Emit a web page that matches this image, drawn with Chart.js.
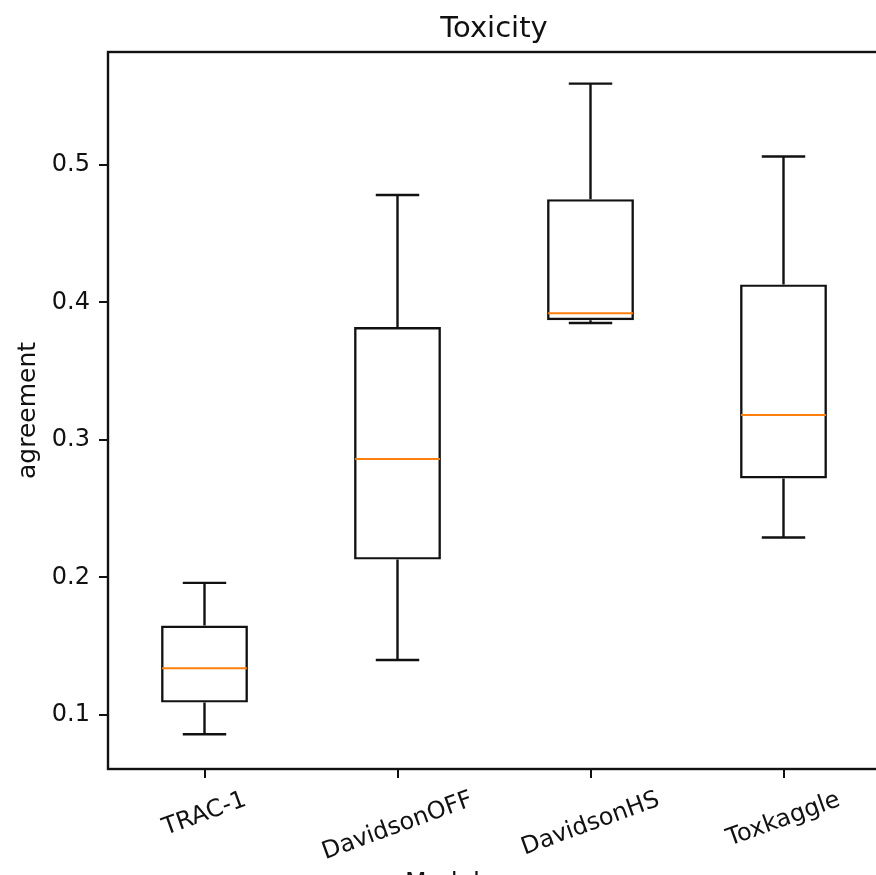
<!DOCTYPE html>
<html>
<head>
<meta charset="utf-8">
<script src="https://cdn.jsdelivr.net/npm/chart.js@4.4.1/dist/chart.umd.min.js"></script>
<style>
  body { margin: 0; overflow: hidden; background: #fff; }
  #wrap { width: 900px; height: 900px; }
</style>
</head>
<body>
<div id="wrap"><canvas id="boxChart"></canvas></div>
<script>
const categories = ['TRAC-1', 'DavidsonOFF', 'DavidsonHS', 'Toxkaggle'];
const whiskerLow = [0.086, 0.140, 0.385, 0.229];
const q1 = [0.109, 0.213, 0.387, 0.272];
const medians = [0.134, 0.286, 0.392, 0.318];
const q3 = [0.165, 0.382, 0.475, 0.413];
const whiskerHigh = [0.196, 0.478, 0.559, 0.506];
const yTicks = [0.1, 0.2, 0.3, 0.4, 0.5];

const FONT = 'DejaVu Sans';
const INK = '#111';

// whiskers, caps and median lines over the bar boxes
const boxParts = {
  id: 'boxParts',
  afterDatasetsDraw(chart) {
    const xs = chart.scales.x, ys = chart.scales.y, ctx = chart.ctx;
    const meta = chart.getDatasetMeta(0);
    ctx.save();
    ctx.lineWidth = 2.4;
    categories.forEach((c, i) => {
      const cx = xs.getPixelForValue(i);
      const half = meta.data[i].width / 2;
      const capHalf = half / 2;
      ctx.strokeStyle = INK;
      ctx.beginPath();
      ctx.moveTo(cx, ys.getPixelForValue(q3[i]));
      ctx.lineTo(cx, ys.getPixelForValue(whiskerHigh[i]));
      ctx.moveTo(cx, ys.getPixelForValue(q1[i]));
      ctx.lineTo(cx, ys.getPixelForValue(whiskerLow[i]));
      ctx.moveTo(cx - capHalf, ys.getPixelForValue(whiskerHigh[i]));
      ctx.lineTo(cx + capHalf, ys.getPixelForValue(whiskerHigh[i]));
      ctx.moveTo(cx - capHalf, ys.getPixelForValue(whiskerLow[i]));
      ctx.lineTo(cx + capHalf, ys.getPixelForValue(whiskerLow[i]));
      ctx.stroke();
      ctx.strokeStyle = '#ff7f0e';
      ctx.lineWidth = 2;
      ctx.beginPath();
      ctx.moveTo(cx - half + 1, ys.getPixelForValue(medians[i]));
      ctx.lineTo(cx + half - 1, ys.getPixelForValue(medians[i]));
      ctx.stroke();
      ctx.lineWidth = 2.4;
    });
    ctx.restore();
  },
  afterDraw(chart) {
    const ctx = chart.ctx, a = chart.chartArea, xs = chart.scales.x;
    ctx.save();
    // frame on all four sides
    ctx.strokeStyle = INK;
    ctx.lineWidth = 2.4;
    ctx.strokeRect(a.left, a.top, a.right - a.left, a.bottom - a.top);
    // rotated, centred category labels
    const ang = 20 * Math.PI / 180;
    const fs = 24;
    ctx.font = fs + 'px "' + FONT + '"';
    ctx.fillStyle = INK;
    ctx.textAlign = 'center';
    ctx.textBaseline = 'middle';
    categories.forEach((c, i) => {
      const w = ctx.measureText(c).width;
      const boxH = w * Math.sin(ang) + fs * Math.cos(ang);
      const cx = xs.getPixelForTick(i);
      const cy = a.bottom + 19 + boxH / 2;
      ctx.save();
      ctx.translate(cx, cy);
      ctx.rotate(-ang);
      ctx.fillText(c, 0, 0);
      ctx.restore();
    });
    // x axis label (cut off by the bottom edge in the source)
    ctx.font = '25px "' + FONT + '"';
    ctx.textAlign = 'left';
    ctx.textBaseline = 'alphabetic';
    ctx.fillText('Model', a.left + 297, a.bottom + 121);
    ctx.restore();
  }
};

new Chart(document.getElementById('boxChart'), {
  type: 'bar',
  data: {
    labels: categories,
    datasets: [{
      data: categories.map((c, i) => [q1[i], q3[i]]),
      backgroundColor: 'rgba(255,255,255,0)',
      borderColor: INK,
      borderWidth: 2.4,
      borderSkipped: false,
      barPercentage: 0.45,
      categoryPercentage: 1
    }]
  },
  options: {
    responsive: true,
    maintainAspectRatio: false,
    animation: false,
    layout: { padding: { left: 0, right: 20, top: 0, bottom: 0 } },
    plugins: {
      legend: { display: false },
      tooltip: { enabled: false },
      title: {
        display: true,
        fullSize: false,
        text: 'Toxicity',
        color: INK,
        font: { family: FONT, size: 29, weight: 'normal' },
        padding: { top: 11.6, bottom: 5.6 }
      }
    },
    scales: {
      x: {
        offset: true,
        grid: { drawOnChartArea: false, offset: false, tickLength: 9, color: INK, lineWidth: 2 },
        border: { display: false },
        ticks: { display: false },
        afterFit(scale) { scale.height = 131; }
      },
      y: {
        min: 0.0607,
        max: 0.582,
        afterBuildTicks(scale) { scale.ticks = yTicks.map(v => ({ value: v })); },
        grid: { drawOnChartArea: false, tickLength: 9, color: INK, lineWidth: 2 },
        border: { display: false },
        ticks: {
          color: INK,
          padding: 9,
          font: { family: FONT, size: 24 },
          callback: v => v.toFixed(1)
        },
        title: {
          display: true,
          text: 'agreement',
          color: INK,
          font: { family: FONT, size: 25 },
          padding: { top: 13, bottom: 0 }
        },
        afterFit(scale) { scale.width = 108; }
      }
    }
  },
  plugins: [boxParts]
});
</script>
</body>
</html>
